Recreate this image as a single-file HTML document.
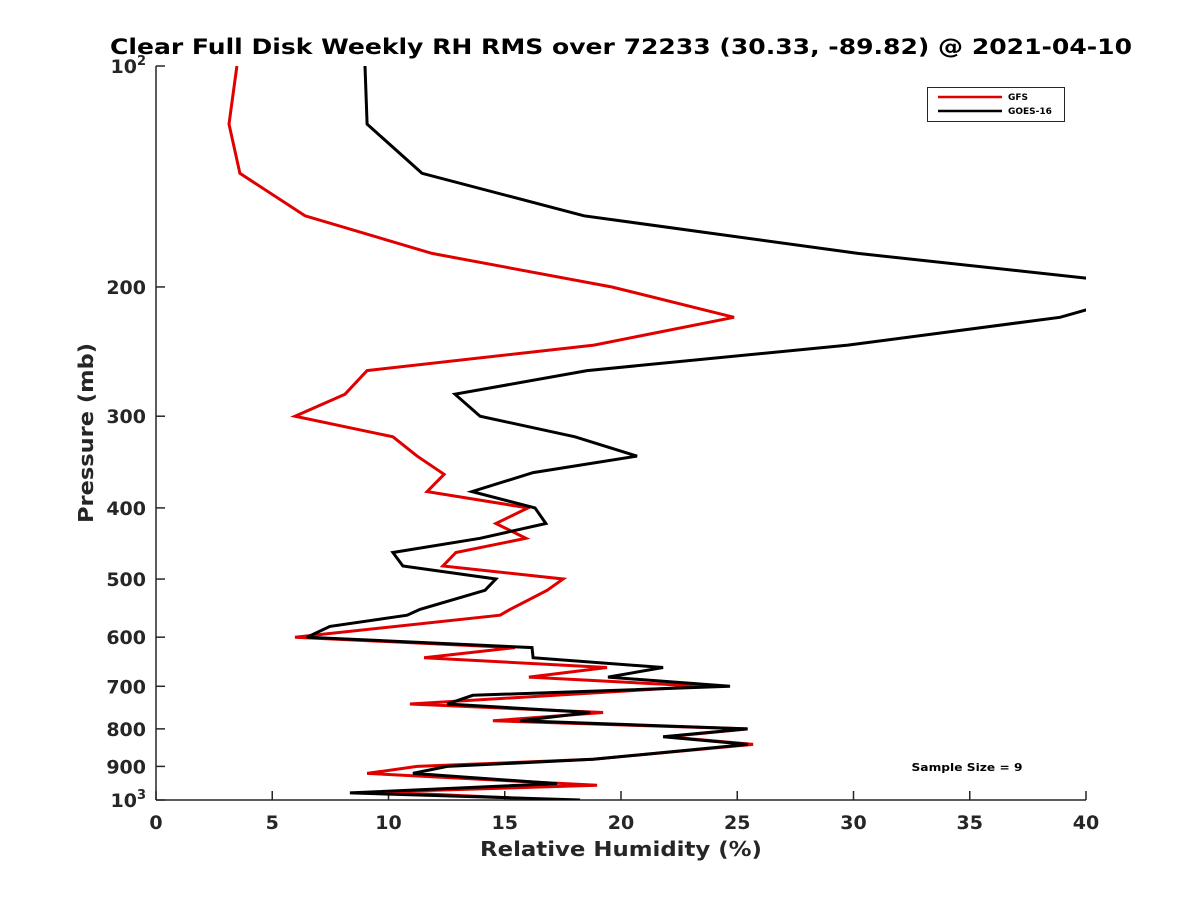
<!DOCTYPE html>
<html><head><meta charset="utf-8"><style>
body{margin:0;background:#fff;}
svg{display:block;font-family:"DejaVu Sans","Liberation Sans",sans-serif;}
</style></head><body>
<svg id="chart" width="1200" height="900" viewBox="0 0 1200 900">
<defs><clipPath id="plotclip"><rect x="156" y="66" width="930" height="734"/></clipPath></defs>
<text x="621" y="54" text-anchor="middle" font-size="21" font-weight="bold" fill="#000" textLength="1022" lengthAdjust="spacingAndGlyphs">Clear Full Disk Weekly RH RMS over 72233 (30.33, -89.82) @ 2021-04-10</text>
<g id="axes"></g>
<g id="series" clip-path="url(#plotclip)"></g>
<text x="621" y="856" text-anchor="middle" font-size="20" font-weight="bold" fill="#262626" textLength="282" lengthAdjust="spacingAndGlyphs">Relative Humidity (%)</text>
<text transform="translate(93,433) rotate(-90)" text-anchor="middle" font-size="20" font-weight="bold" fill="#262626" textLength="180" lengthAdjust="spacingAndGlyphs">Pressure (mb)</text>
<g>
<rect x="927.5" y="87.5" width="137" height="34" fill="#fff" stroke="#262626" stroke-width="1"/>
<line x1="938" y1="97" x2="1002" y2="97" stroke="#e00000" stroke-width="2.5"/>
<text x="1008" y="100" font-size="9" font-weight="bold" fill="#000">GFS</text>
<line x1="938" y1="111" x2="1002" y2="111" stroke="#000" stroke-width="2.5"/>
<text x="1008" y="114" font-size="9" font-weight="bold" fill="#000">GOES-16</text>
</g>
<text x="967" y="771" text-anchor="middle" font-size="11" font-weight="bold" fill="#000" textLength="111" lengthAdjust="spacingAndGlyphs">Sample Size = 9</text>
</svg>
<script>
const xTicks = [0,5,10,15,20,25,30,35,40];
const yTicks = [100,200,300,400,500,600,700,800,900,1000];
const yTickLabels = ["10^2","200","300","400","500","600","700","800","900","10^3"];
const gfsPressure = [100,120,140,160,180,200,220,240,260,280,300,320,340,360,380,400,420,440,460,480,500,518,550,560,600,620,640,660,680,700,740,760,780,800,820,840,880,900,920,955,975,1000];
const gfsRH = [3.48,3.14,3.61,6.41,11.87,19.61,24.86,18.84,9.08,8.13,5.98,10.19,11.23,12.39,11.66,16.0,14.62,15.91,12.9,12.34,17.51,16.82,15.23,14.8,5.98,15.44,11.53,19.4,16.04,23.53,10.92,19.23,14.49,25.46,21.98,25.68,18.8,11.23,9.08,18.97,9.63,17.25];
const goesPressure = [100,120,140,160,180,194.5,205,215,220,240,260,280,300,320,340,358,380,400,420,440,460,480,500,518,550,560,580,600,620,640,660,680,700,720,740,760,780,800,820,840,880,900,920,950,978,1000];
const goesRH = [8.99,9.08,11.44,18.41,30.19,40.0,43.0,40.0,38.88,29.76,18.54,12.86,13.94,18.02,20.69,16.22,13.59,16.3,16.77,13.94,10.19,10.62,14.62,14.15,11.35,10.8,7.48,6.49,16.17,16.22,21.81,19.44,24.69,13.63,12.52,18.67,15.66,25.42,21.81,25.46,18.8,12.52,11.05,17.25,8.34,18.24];

const X0=156,X1=1086,Y0=66,Y1=800;
function xs(v){return X0+(v-0)/(40-0)*(X1-X0);}
function ys(p){return Y0+(Math.log10(p)-2)*(Y1-Y0);}
const NS="http://www.w3.org/2000/svg";
const axes=document.getElementById('axes');
const series=document.getElementById('series');
function mk(tag,attrs,parent){const e=document.createElementNS(NS,tag);for(const k in attrs)e.setAttribute(k,attrs[k]);parent.appendChild(e);return e;}

let xa=mk('line',{x1:X0,y1:Y1,x2:X1,y2:Y1,stroke:'#262626','stroke-width':1.5},axes);


let ya=mk('line',{x1:X0,y1:Y0,x2:X0,y2:Y1,stroke:'#262626','stroke-width':1.5},axes);



xTicks.forEach(function(t){
  const x=xs(t);
  const tk=mk('line',{x1:x,y1:Y1,x2:x,y2:Y1-9,stroke:'#262626','stroke-width':1.5},axes);
  
  
  const tl=mk('text',{x:x,y:Y1+29,'text-anchor':'middle','font-size':19,'font-weight':'bold',fill:'#262626'},axes);
  tl.textContent=String(t);
  
  
});
yTicks.forEach(function(t,i){
  const y=ys(t);
  const tk=mk('line',{x1:X0,y1:y,x2:X0+9,y2:y,stroke:'#262626','stroke-width':1.5},axes);
  
  
  const lab=yTickLabels[i];
  const tl=mk('text',{x:X0-10,y:y+7,'text-anchor':'end','font-size':19,'font-weight':'bold',fill:'#262626'},axes);
  if(lab.indexOf('^')>=0){
    const parts=lab.split('^');
    const a=mk('tspan',{},tl); a.textContent=parts[0];
    const b=mk('tspan',{'font-size':13,dy:-8},tl); b.textContent=parts[1];
  } else tl.textContent=lab;
  
  
});

function drawLine(pr,vals,color,name){
  const pts=pr.map(function(p,i){return xs(vals[i]).toFixed(1)+','+ys(p).toFixed(1);}).join(' ');
  const pl=mk('polyline',{points:pts,fill:'none',stroke:color,'stroke-width':3,'stroke-linejoin':'miter'},series);
  
  
}
drawLine(gfsPressure,gfsRH,'#e00000','gfs-line');
drawLine(goesPressure,goesRH,'#000000','goes16-line');
</script>
</body></html>
